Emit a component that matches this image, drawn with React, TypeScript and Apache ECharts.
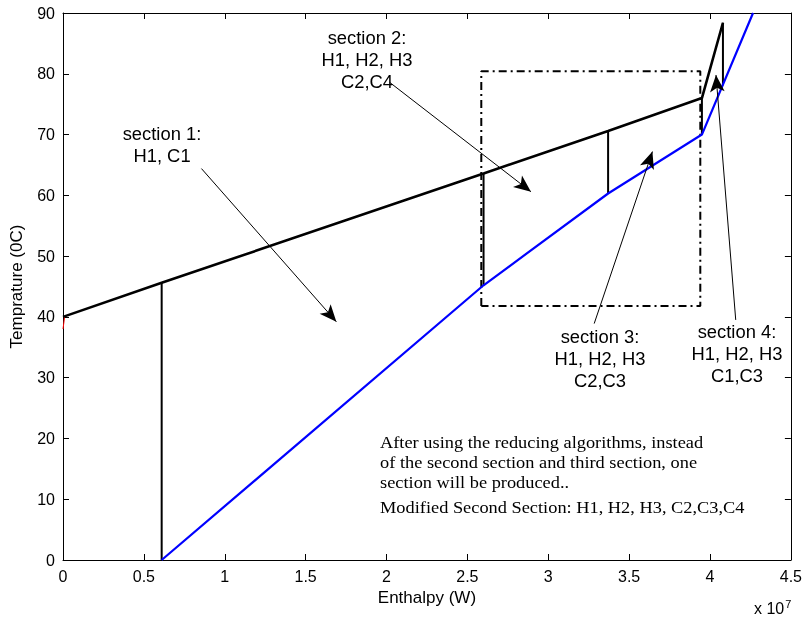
import React, { useEffect, useRef } from "react";
import * as echarts from "echarts";

// Hot composite curve (black)
const hotX = [0, 0.61, 2.6, 3.37, 3.95, 4.08];
const hotY = [40, 45.6, 63.6, 70.6, 76, 88.4];
// Cold composite curve (blue)
const coldX = [0.61, 2.6, 3.37, 3.95, 4.266];
const coldY = [0, 45.2, 60.3, 70, 90];
// Small red segment near the y axis
const redX = [0, 0.01];
const redY = [38, 40];
// Section boundaries: [x, yLow, yHigh]
const boundaries = [
  [0.61, 0, 45.6],
  [2.6, 45.2, 63.6],
  [3.37, 60.3, 70.6],
  [3.95, 70, 76],
  [4.08, 78.1, 88.4],
];
// Dash-dot box (x range, y range)
const boxX = [2.586, 3.94];
const boxY = [41.8, 80.4];
// Annotation arrows: [x0, y0, x1, y1] (arrow head at x1,y1)
const arrows = [
  [0.856, 64.4, 1.69, 39.2],
  [2.019, 78.6, 2.893, 60.6],
  [3.284, 38.9, 3.644, 67.2],
  [4.159, 39.5, 4.037, 79.8],
];
// Texts
const sectionLabels = [
  "section 1:\nH1, C1",
  "section 2:\nH1, H2, H3\nC2,C4",
  "section 3:\nH1, H2, H3\nC2,C3",
  "section 4:\nH1, H2, H3\nC1,C3",
];
const noteLines = [
  "After using the reducing algorithms, instead",
  "of the second section and third section, one",
  "section will be produced..",
];
const noteLast = "Modified Second Section: H1, H2, H3, C2,C3,C4";

const SANS = "Liberation Sans, Arial, Helvetica, sans-serif";
const SERIF = "Liberation Serif, Times New Roman, serif";

export default function App() {
  const ref = useRef<HTMLDivElement>(null);
  useEffect(() => {
    document.body.style.margin = "0";
    const chart = echarts.init(ref.current!, null, { renderer: "svg" });
    const axisLine = { show: true, onZero: false, lineStyle: { color: "#000", width: 1 } };
    const axisTick = { show: true, inside: true, length: 6, lineStyle: { color: "#000", width: 1 } };
    const label = { color: "#000", fontSize: 16, fontFamily: SANS };
    const pair = (xs: number[], ys: number[]) => xs.map((x, i) => [x, ys[i]]);

    const boundarySeries = boundaries.map((b) => ({
      type: "line",
      data: [[b[0], b[1]], [b[0], b[2]]],
      symbol: "none",
      lineStyle: { color: "#000", width: 2 },
      z: 3,
    }));

    const boxData = [
      [boxX[0], boxY[0]],
      [boxX[0], boxY[1]],
      [boxX[1], boxY[1]],
      [boxX[1], boxY[0]],
      [boxX[0], boxY[0]],
    ];

    const textStyle = { fill: "#000", fontSize: 17.5, fontFamily: SANS, align: "center", lineHeight: 22 };
    const sectionPos = [
      [162, 123],
      [367, 27],
      [600, 326],
      [737, 321],
    ];

    chart.setOption({
      animation: false,
      grid: { left: 63, right: 12, top: 13, bottom: 58 },
      xAxis: [
        {
          type: "value",
          min: 0,
          max: 4.5,
          interval: 0.5,
          position: "bottom",
          axisLine,
          axisTick,
          axisLabel: { ...label, margin: 8 },
          splitLine: { show: false },
          name: "Enthalpy (W)",
          nameLocation: "middle",
          nameGap: 24,
          nameTextStyle: { color: "#000", fontSize: 17, fontFamily: SANS },
        },
        {
          type: "value",
          min: 0,
          max: 4.5,
          interval: 0.5,
          position: "top",
          axisLine,
          axisTick,
          axisLabel: { show: false },
          splitLine: { show: false },
        },
      ],
      yAxis: [
        {
          type: "value",
          min: 0,
          max: 90,
          interval: 10,
          position: "left",
          axisLine,
          axisTick,
          axisLabel: { ...label, margin: 8 },
          splitLine: { show: false },
          name: "Temprature (0C)",
          nameLocation: "middle",
          nameGap: 38,
          nameTextStyle: { color: "#000", fontSize: 17, fontFamily: SANS },
        },
        {
          type: "value",
          min: 0,
          max: 90,
          interval: 10,
          position: "right",
          axisLine,
          axisTick,
          axisLabel: { show: false },
          splitLine: { show: false },
        },
      ],
      series: [
        {
          type: "line",
          data: pair(redX, redY),
          symbol: "none",
          lineStyle: { color: "#ff0000", width: 1 },
        },
        {
          type: "line",
          data: pair(coldX, coldY),
          symbol: "none",
          lineStyle: { color: "#0000ff", width: 2.2 },
          z: 4,
        },
        {
          type: "line",
          data: pair(hotX, hotY),
          symbol: "none",
          lineStyle: { color: "#000", width: 2.6 },
          z: 4,
        },
        ...boundarySeries,
        {
          type: "line",
          data: boxData,
          symbol: "none",
          lineStyle: { color: "#000", width: 2, type: [8, 4, 2, 4] },
          z: 2,
          markLine: {
            silent: true,
            symbol: ["none", "arrow"],
            symbolSize: [11, 17],
            label: { show: false },
            lineStyle: { color: "#000", width: 1, type: "solid" },
            data: arrows.map((a) => [{ coord: [a[0], a[1]] }, { coord: [a[2], a[3]] }]),
          },
        },
      ],
      graphic: [
        ...sectionLabels.map((t, i) => ({
          type: "text",
          x: sectionPos[i][0],
          y: sectionPos[i][1],
          scaleX: 1.05,
          style: { ...textStyle, text: t },
        })),
        {
          type: "text",
          x: 380,
          y: 432,
          scaleX: 1.08,
          style: { text: noteLines.join("\n"), fill: "#000", fontSize: 17, fontFamily: SERIF, lineHeight: 20 },
        },
        {
          type: "text",
          x: 380,
          y: 497,
          scaleX: 1.08,
          style: { text: noteLast, fill: "#000", fontSize: 17, fontFamily: SERIF, lineHeight: 20 },
        },
        {
          type: "text",
          x: 754,
          y: 598,
          style: {
            text: "x 10{s|7}",
            fill: "#000",
            fontSize: 16,
            fontFamily: SANS,
            rich: { s: { fontSize: 11, fontFamily: SANS, fill: "#000", verticalAlign: "top", padding: [0, 0, 10, 1] } },
          },
        },
      ],
    });
    return () => chart.dispose();
  }, []);
  return <div ref={ref} style={{ position: "fixed", left: 0, top: 0, width: 805, height: 618 }} />;
}
